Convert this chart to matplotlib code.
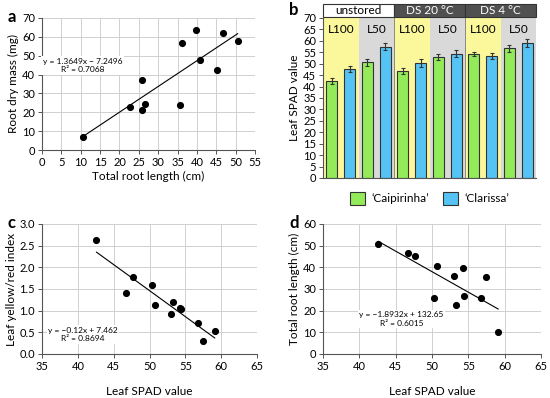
import numpy as np
import matplotlib
matplotlib.use("Agg")
import matplotlib.pyplot as plt
from matplotlib.patches import Rectangle

plt.rcParams['font.family'] = ['Lato', 'DejaVu Sans']
plt.rcParams['font.size'] = 8

# Panel a: total root length vs root dry mass
root_len = [10.5, 22.7, 25.7, 25.9, 26.7, 35.5, 36.1, 39.7, 40.7, 45.1, 46.6, 50.5]
root_mass = [6.7, 22.7, 37.2, 21.0, 24.6, 23.7, 57.0, 63.7, 47.6, 42.3, 62.0, 58.0]

# Panel b: leaf SPAD bars
groups = ["unstored", "DS 20 °C", "DS 4 °C"]
light = ["L100", "L50"]
spad_caip = [42.6, 50.7, 46.7, 53.0, 54.3, 56.8]
spad_clar = [47.7, 57.4, 50.3, 54.4, 53.3, 59.1]
err_caip = [1.3, 1.5, 1.4, 1.3, 1.0, 1.6]
err_clar = [1.4, 1.5, 1.9, 1.6, 1.4, 1.7]

# Panels c, d: SPAD vs yellow/red index and root length
spad = [42.6, 46.7, 47.7, 50.3, 50.7, 53.0, 53.3, 54.3, 54.4, 56.8, 57.4, 59.1]
yr_index = [2.64, 1.41, 1.78, 1.59, 1.13, 0.93, 1.21, 1.05, 1.03, 0.72, 0.30, 0.54]
spad_d = [42.6, 46.7, 47.7, 50.3, 50.7, 53.0, 53.3, 54.3, 54.4, 56.8, 57.4, 59.1]
root_len_d = [50.6, 46.6, 45.0, 26.0, 40.7, 36.1, 22.6, 39.6, 26.8, 25.7, 35.5, 10.3]

fits = {"a": (1.3649, -7.2496), "c": (-0.12, 7.462), "d": (-1.8932, 132.65)}

grid_c = "#d0d0d0"
spine_c = "#555555"

fig = plt.figure(figsize=(5.5, 3.98), dpi=100)


def scatter_panel(rect, x, y, fit, xlim, ylim, xticks, yticks, xlabel, ylabel, letter,
                  eq, eqpos, yfmt=None):
    ax = fig.add_axes(rect)
    ax.scatter(x, y, s=17, color="black", zorder=3)
    xs = np.array([min(x), max(x)])
    ax.plot(xs, fit[0] * xs + fit[1], color="black", lw=0.8, zorder=2)
    ax.set_xlim(*xlim)
    ax.set_ylim(*ylim)
    ax.set_xticks(xticks)
    ax.set_yticks(yticks)
    if yfmt:
        ax.set_yticklabels([yfmt.format(v) for v in yticks])
    ax.grid(True, color=grid_c, lw=0.7)
    ax.set_axisbelow(True)
    for s in ["top", "right"]:
        ax.spines[s].set_visible(False)
    for s in ["left", "bottom"]:
        ax.spines[s].set_color(spine_c)
        ax.spines[s].set_linewidth(0.8)
    ax.tick_params(length=3, width=0.7, color=spine_c, pad=2, labelsize=8)
    ax.set_xlabel(xlabel, fontsize=8.5, labelpad=2)
    ax.set_ylabel(ylabel, fontsize=8.5, labelpad=2)
    ax.text(eqpos[0], eqpos[1], eq, transform=ax.transAxes, ha="center", va="center",
            fontsize=6, linespacing=1.3,
            bbox=dict(facecolor="white", edgecolor="none", pad=1))
    fig.text(rect[0] - 0.062, rect[1] + rect[3] + 0.003, letter, fontsize=12,
             fontweight="bold", va="center")
    return ax


# a
scatter_panel([0.0764, 0.6231, 0.3873, 0.3317], root_len, root_mass, fits["a"],
              (0, 55), (0, 70), range(0, 56, 5), range(0, 71, 10),
              "Total root length (cm)", "Root dry mass (mg)", "a",
              "y = 1.3649x \u2212 7.2496\nR\u00b2 = 0.7068", (0.19, 0.64))

# c
ax_c = scatter_panel([0.0764, 0.1106, 0.3909, 0.3266], spad, yr_index, fits["c"],
                     (35, 65), (0, 3.0), range(35, 66, 5), np.arange(0, 3.01, 0.5),
                     "Leaf SPAD value", "Leaf yellow/red index", "c",
                     "y = \u22120.12x + 7.462\nR\u00b2 = 0.8694", (0.19, 0.15),
                     yfmt="{:.1f}")
ax_c.xaxis.labelpad = 10

# d
ax_d = scatter_panel([0.5873, 0.1106, 0.3964, 0.3266], spad_d, root_len_d, fits["d"],
                     (35, 65), (0, 60), range(35, 66, 5), range(0, 61, 10),
                     "Leaf SPAD value", "Total root length (cm)", "d",
                     "y = \u22121.8932x + 132.65\nR\u00b2 = 0.6015", (0.36, 0.27))
ax_d.xaxis.labelpad = 10

# b
axb = fig.add_axes([0.5873, 0.5528, 0.3873, 0.402])
n = len(spad_caip)
pos = np.arange(2 * n)
for i in range(n):
    col = "#fbf89c" if i % 2 == 0 else "#d9d9d9"
    axb.axvspan(2 * i - 0.5, 2 * i + 1.5, color=col, lw=0, zorder=0)
    axb.text(2 * i + 0.5, 64.8, light[i % 2], ha="center", va="center", fontsize=8.5)
vals = []
errs = []
cols = []
for i in range(n):
    vals += [spad_caip[i], spad_clar[i]]
    errs += [err_caip[i], err_clar[i]]
    cols += ["#93eb5a", "#55c3f3"]
axb.bar(pos, vals, width=0.62, color=cols, edgecolor="#333333", lw=0.8, zorder=2,
        yerr=errs, error_kw=dict(ecolor="#333333", elinewidth=0.8, capsize=1.5, capthick=0.8))
for g in range(1, 3):
    axb.axvline(4 * g - 0.5, color="#888888", lw=0.7, zorder=1)
axb.set_xlim(-0.5, 2 * n - 0.5)
axb.set_ylim(0, 70)
axb.set_yticks(range(0, 71, 5))
axb.set_xticks([])
for s in ["top", "right"]:
    axb.spines[s].set_visible(False)
axb.spines["left"].set_color(spine_c)
axb.spines["bottom"].set_color(spine_c)
axb.tick_params(length=3, width=0.7, color=spine_c, pad=2, labelsize=8)
axb.set_ylabel("Leaf SPAD value", fontsize=8.5, labelpad=2)
fig.text(0.5873 - 0.062, 0.975, "b", fontsize=12, fontweight="bold", va="center")

# header band over panel b
axh = fig.add_axes([0.5873, 0.9573, 0.3873, 0.0326])
axh.set_xlim(-0.5, 2 * n - 0.5)
axh.set_ylim(0, 1)
axh.axis("off")
for g, name in enumerate(groups):
    fc = "white" if g == 0 else "#505050"
    tc = "black" if g == 0 else "white"
    axh.add_patch(Rectangle((4 * g - 0.5, 0), 4, 1, facecolor=fc, edgecolor="#333333",
                            lw=0.8, clip_on=False))
    axh.text(4 * g + 1.5, 0.5, name, ha="center", va="center", fontsize=8.5, color=tc)

handles = [Rectangle((0, 0), 1, 1, facecolor="#93eb5a", edgecolor="#333333", lw=0.8),
           Rectangle((0, 0), 1, 1, facecolor="#55c3f3", edgecolor="#333333", lw=0.8)]
axb.legend(handles, ["\u2018Caipirinha\u2019", "\u2018Clarissa\u2019"], ncol=2,
           loc="upper center", bbox_to_anchor=(0.5, -0.02), frameon=False, fontsize=8.5,
           handlelength=1.3, handleheight=1.3, columnspacing=1.2, handletextpad=0.5)

fig.savefig("out.png", dpi=100)
